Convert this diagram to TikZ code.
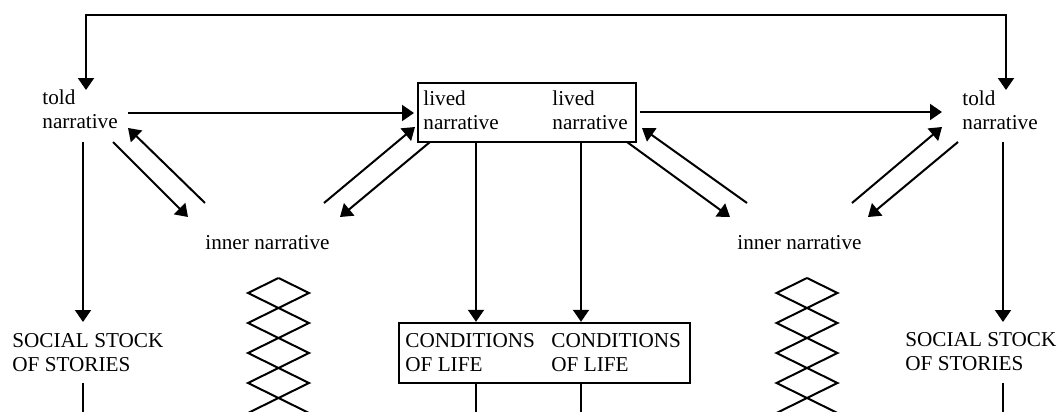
\documentclass[tikz,border=0pt]{standalone}
\usepackage{fontspec}
\setmainfont{Liberation Serif}
\usetikzlibrary{arrows.meta,calc}
\begin{document}
\begin{tikzpicture}[x=0.5pt,y=-0.5pt,
  lbl/.style={inner sep=0pt, align=left, anchor=north west, font=\fontsize{10.6}{12}\selectfont},
  one/.style={inner sep=0pt, anchor=base west, font=\fontsize{10.6}{12}\selectfont},
  ln/.style={line width=1pt},
  arr/.style={ln, -{Triangle[length=6pt,width=8pt]}},
  box/.style={draw, line width=1.2pt, inner sep=0pt}]
\useasboundingbox (0,0) rectangle (1062,412);
\clip (0,0) rectangle (1062,412);
% boxes
\node[box, minimum width=109pt, minimum height=29.5pt] (lived) at (527,112.5) {};
\node[box, minimum width=145.5pt, minimum height=30pt] (cond) at (544.5,353) {};
% texts
\node[lbl] (tellL) at (42,89) {told\\narrative};
\node[lbl] (tellR) at (962,90) {told\\narrative};
\node[lbl] (livedA) at (423,90.7) {lived\\narrative};
\node[lbl] (livedB) at (552,90.7) {lived\\narrative};
\node[one] (innerL) at (205,249) {inner narrative};
\node[one] (innerR) at (737,249) {inner narrative};
\node[lbl] (socL) at (12,333) {SOCIAL STOCK\\OF STORIES};
\node[lbl] (socR) at (905,332) {SOCIAL STOCK\\OF STORIES};
\node[lbl] (condA) at (405,333) {CONDITIONS\\OF LIFE};
\node[lbl] (condB) at (551,333) {CONDITIONS\\OF LIFE};
% x positions
\coordinate (xA) at (476,0);
\coordinate (xB) at (581,0);
% connector end points
\coordinate (topL) at (86,90);
\coordinate (topR) at (1006,90);
\coordinate (tLout) at (128,113);
\coordinate (tRin) at (942,112);
\coordinate (lvL) at (414,113);
\coordinate (lvR) at (640,112);
\coordinate (tLd) at (83,142);
\coordinate (tRd) at (1003,142);
\coordinate (sLu) at (83,322);
\coordinate (sRu) at (1003,322);
\coordinate (sLd) at (83,383);
\coordinate (sRd) at (1003,383);
\coordinate (bot) at (0,412);
% top loop
\draw[ln, {Triangle[length=6pt,width=8pt]}-{Triangle[length=6pt,width=8pt]}] (topL) -- (86,15) -- (1006,15) -- (topR);
% horizontals
\draw[arr] (tLout) -- (lvL);
\draw[arr] (lvR) -- (tRin);
% verticals told -> social
\draw[arr] (tLd) -- (sLu);
\draw[arr] (tRd) -- (sRu);
\draw[ln] (sLd) -- (sLd |- bot);
\draw[ln] (sRd) -- (sRd |- bot);
% lived -> conditions
\draw[arr] (lived.south -| xA) -- (cond.north -| xA);
\draw[arr] (lived.south -| xB) -- (cond.north -| xB);
\draw[ln] (cond.south -| xA) -- (bot -| xA);
\draw[ln] (cond.south -| xB) -- (bot -| xB);
% diagonals
\draw[arr] (113,142) -- (188,217);
\draw[arr] (205,203) -- (128,128);
\draw[arr] (324,203) -- (415,127);
\draw[arr] (430,142) -- (340,217);
\draw[arr] (627,142) -- (730,217);
\draw[arr] (747,203) -- (642,128);
\draw[arr] (852,203) -- (942,127);
\draw[arr] (958,142) -- (868,217);
% zigzag chains
\foreach \cx in {278.5,807}{
  \draw[ln] (\cx,278) -- (\cx-30.5,293) -- (\cx+30.5,323) -- (\cx-30.5,353) -- (\cx+30.5,383) -- (\cx-30.5,413);
  \draw[ln] (\cx,278) -- (\cx+30.5,293) -- (\cx-30.5,323) -- (\cx+30.5,353) -- (\cx-30.5,383) -- (\cx+30.5,413);
}
\end{tikzpicture}
\end{document}
